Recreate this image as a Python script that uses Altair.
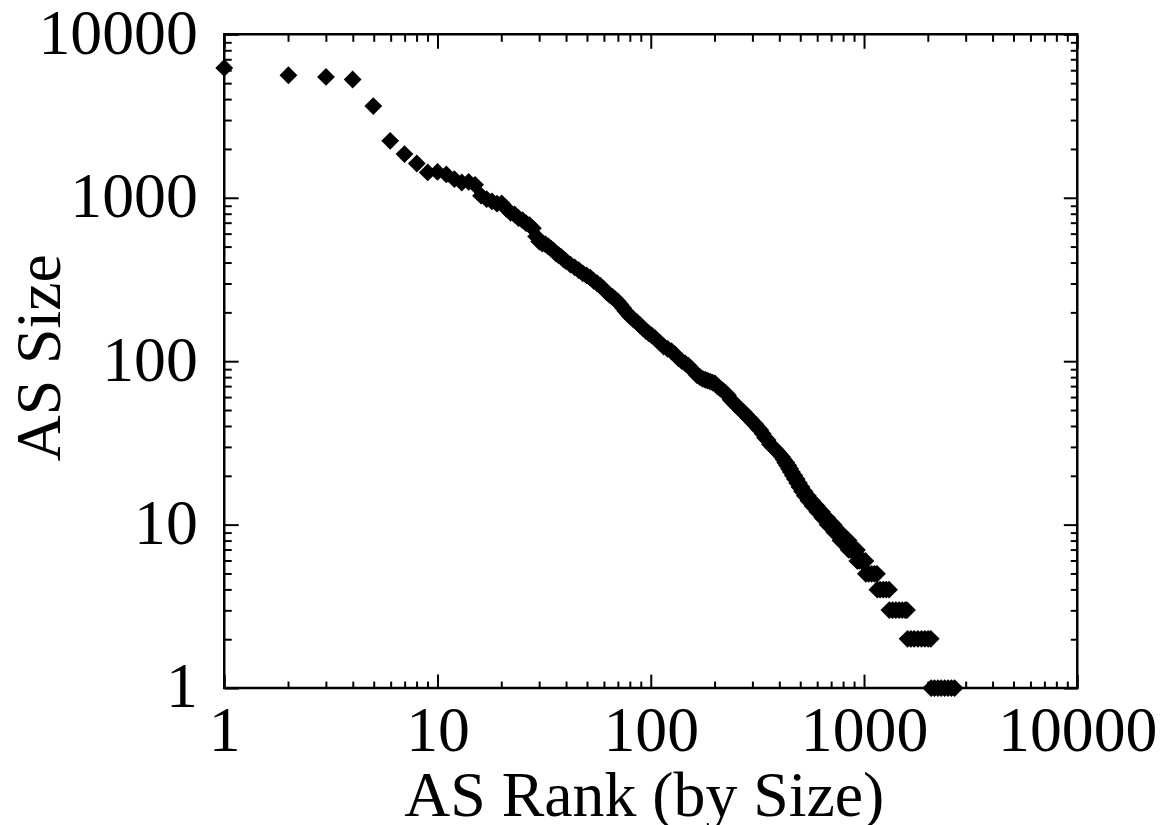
import altair as alt
import pandas as pd

# ---- data (rank, AS size) ----
ranks = [1, 2, 3, 4, 5, 6, 7, 8, 9, 10, 11, 12, 13, 14, 15, 16, 17, 18, 19, 20,
         21, 22, 23, 24, 25, 26, 27, 28, 29, 30, 31, 32, 33, 34, 35, 36, 37, 38, 39, 40,
         42, 44, 46, 48, 50, 52, 54, 56, 58, 60, 62, 64, 66, 68, 70, 72, 74, 76, 78, 80,
         83, 86, 89, 92, 95, 98, 101, 105, 110, 115, 120, 125, 130, 135, 140, 145, 150,
         155, 160, 165, 170, 175, 180, 185, 190, 195, 200, 206, 212, 218, 224, 230, 237,
         244, 251, 258, 265, 272, 280, 287, 294, 302, 310, 318, 326, 335, 344, 353, 362,
         372, 382, 392, 402, 412, 420, 427, 432, 436, 441, 445, 450, 454, 459, 464, 468,
         471, 474, 478, 483, 486, 491, 495, 498, 504, 509, 512, 519, 525, 528, 537, 545,
         549, 560, 570, 574, 587, 600, 604, 619, 634, 638, 655, 671, 675, 698, 720, 724,
         748, 772, 776, 810, 846, 848, 868, 888, 908, 926, 930, 950, 972, 994, 1015,
         1020, 1050, 1085, 1120, 1150, 1155, 1190, 1230, 1270, 1310, 1315, 1360, 1410,
         1460, 1510, 1560, 1590, 1600, 1660, 1720, 1790, 1860, 1930, 2000, 2055, 2065,
         2140, 2220, 2300, 2390, 2480, 2570, 2660]
sizes = [6230, 5620, 5490, 5290, 3640, 2230, 1850, 1620, 1430, 1440, 1390, 1300, 1240, 1250, 1200, 1030, 980, 950, 920, 925,
         860, 810, 790, 750, 730, 700, 680, 650, 580, 540, 525, 520, 505, 490, 475, 455, 445, 435, 420, 410,
         390, 375, 360, 345, 335, 325, 310, 300, 290, 278, 265, 255, 248, 240, 232, 222, 212, 203, 195, 188,
         180, 174, 166, 159, 153, 148, 144, 138, 130, 123, 119, 115, 110, 104, 100, 97, 94,
         90, 86, 82, 80, 78, 77, 76, 75, 74, 73, 70, 68, 66, 64, 62, 58,
         56, 54, 52, 50, 49, 47, 45, 44, 42, 41, 39, 38, 36, 34, 33, 31,
         30, 29, 28, 27, 26, 25, 24, 24, 23, 23, 22, 22, 21, 21, 20, 20,
         20, 19, 19, 19, 18, 18, 18, 17, 17, 17, 16, 16, 16, 15, 15, 15,
         14, 14, 14, 13, 13, 13, 12, 12, 12, 11, 11, 11, 10, 10, 10, 9,
         9, 9, 8, 8, 8, 7, 7, 7, 7, 7, 6, 6, 6, 6, 6,
         5, 5, 5, 5, 5, 4, 4, 4, 4, 4, 3, 3, 3,
         3, 3, 3, 3, 2, 2, 2, 2, 2, 2, 2, 2, 1,
         1, 1, 1, 1, 1, 1, 1]

major_ticks = [1, 10, 100, 1000, 10000]
minor_ticks = [2, 3, 4, 5, 6, 7, 8, 9,
               20, 30, 40, 50, 60, 70, 80, 90,
               200, 300, 400, 500, 600, 700, 800, 900,
               2000, 3000, 4000, 5000, 6000, 7000, 8000, 9000]

x_title = "AS Rank (by Size)"
y_title = "AS Size"

df = pd.DataFrame({"rank": ranks, "size": sizes})

FONT = "Liberation Serif"
FS = 64
W, H = 856, 656
MAJ, MIN = 14, 7

xs = alt.Scale(type="log", domain=[1, 10000], nice=False)
ys = alt.Scale(type="log", domain=[1, 10000], nice=False)


def tick_axis(orient, values, length):
    return alt.Axis(orient=orient, values=values, offset=-length, tickSize=length,
                    tickWidth=2, tickColor="black", labels=False, domain=False,
                    grid=False, title=None)


base = alt.Chart(df)

points = base.mark_point(shape="diamond", filled=True, size=320, color="black",
                         opacity=1).encode(
    x=alt.X("rank:Q", scale=xs,
            axis=alt.Axis(orient="bottom", values=major_ticks, format="d", ticks=False,
                          domain=False, grid=False, labelFont=FONT, labelFontSize=FS,
                          labelColor="black", labelPadding=12, labelFlush=False,
                          labelOverlap=False, labelBaseline="top",
                          title=x_title, titleFont=FONT, titleFontSize=FS,
                          titleFontWeight="normal", titleColor="black",
                          titleBaseline="alphabetic", titleAlign="center",
                          titleX=421, titleY=128)),
    y=alt.Y("size:Q", scale=ys,
            axis=alt.Axis(orient="left", values=major_ticks, format="d", ticks=False,
                          domain=False, grid=False, labelFont=FONT, labelFontSize=FS,
                          labelColor="black", labelPadding=27, labelFlush=False,
                          labelOverlap=False,
                          title=y_title, titleFont=FONT, titleFontSize=FS,
                          titleFontWeight="normal", titleColor="black",
                          titleAngle=-90, titleBaseline="alphabetic",
                          titleAlign="center", titleX=-165, titleY=324)),
)


def ghost(xo, yo, values, length):
    return base.mark_point(opacity=0).encode(
        x=alt.X("rank:Q", scale=xs, axis=tick_axis(xo, values, length)),
        y=alt.Y("size:Q", scale=ys, axis=tick_axis(yo, values, length)),
    )


chart = alt.layer(
    ghost("bottom", "left", major_ticks, MAJ),
    ghost("bottom", "left", minor_ticks, MIN),
    ghost("top", "right", major_ticks, MAJ),
    ghost("top", "right", minor_ticks, MIN),
    points,
).resolve_axis(x="independent", y="independent").properties(
    width=W, height=H,
    autosize=alt.AutoSizeParams(type="none"),
    padding={"left": 217, "top": 25, "right": 80, "bottom": 140},
    background="white",
).configure_view(stroke="black", strokeWidth=2.5)

chart.save("out.html", embed_options={"renderer": "svg", "actions": False})
